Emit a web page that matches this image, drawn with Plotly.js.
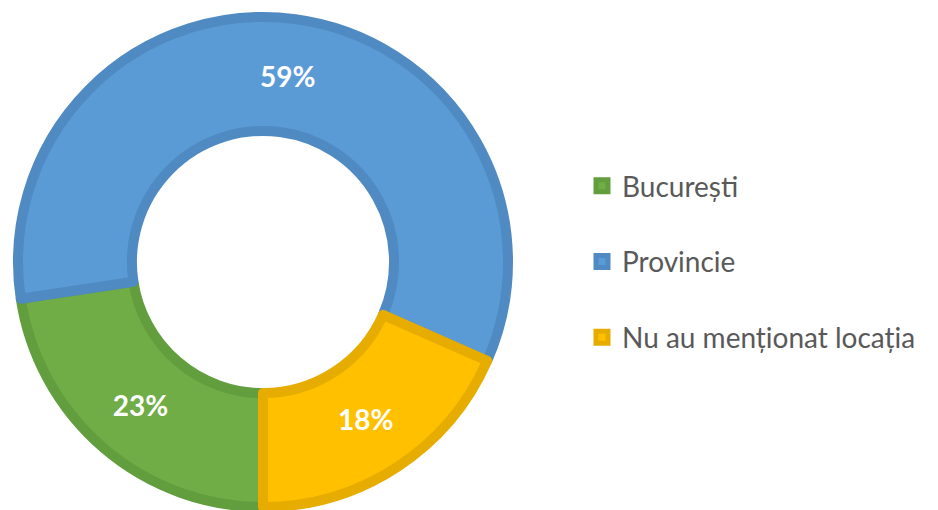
<!DOCTYPE html>
<html>
<head>
<meta charset="utf-8">
<script src="https://cdn.plot.ly/plotly-3.0.1.min.js"></script>
<style>html,body{margin:0;padding:0;background:#fff;}#chart{width:938px;height:510px;}</style>
</head>
<body>
<div id="chart"></div>
<script>
// Data
var categories = ["București", "Provincie", "Nu au menționat locația"];
var shares = [22.6, 59.0, 18.4];
var fillColors = ["#70AD47", "#5B9BD5", "#FFC000"];
var borderColors = ["#629D3E", "#4F8AC2", "#E6AD00"];

var legendLabels = categories.map(function (c) { return c + "<br>&nbsp;"; });

var trace = {
  type: "pie",
  labels: legendLabels,
  values: shares,
  sort: false,
  direction: "clockwise",
  rotation: 180,
  hole: 0.535,
  marker: { colors: fillColors, line: { color: borderColors, width: 10 } },
  texttemplate: "%{percent:.0%}",
  textposition: "inside",
  insidetextorientation: "horizontal",
  insidetextfont: { family: "Lato, 'Open Sans', sans-serif", size: 28, color: "#FFFFFF", weight: 700 },
  domain: { x: [18 / 938, 508 / 938], y: [3 / 510, 493 / 510] },
  hoverinfo: "label+percent"
};

var layout = {
  width: 938,
  height: 510,
  margin: { l: 0, r: 0, t: 0, b: 0 },
  paper_bgcolor: "#FFFFFF",
  showlegend: true,
  legend: {
    x: 582 / 938,
    xanchor: "left",
    y: 0.451,
    yanchor: "middle",
    valign: "top",
    font: { family: "Lato, 'Open Sans', sans-serif", size: 28, color: "#595959" },
    bgcolor: "rgba(0,0,0,0)"
  }
};

Plotly.newPlot("chart", [trace], layout, { displayModeBar: false, staticPlot: true });
</script>
</body>
</html>
